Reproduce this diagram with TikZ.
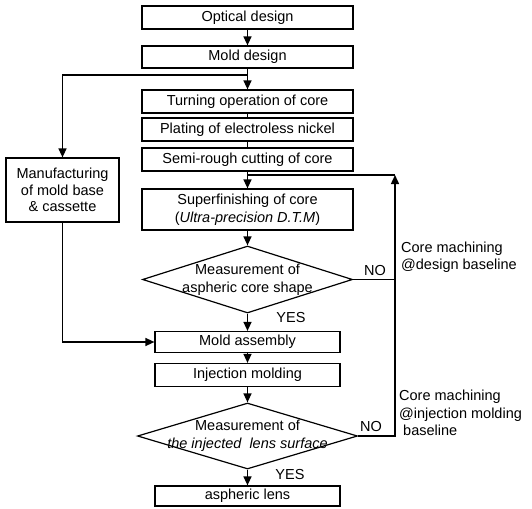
\documentclass[tikz,border=0pt]{standalone}
\usepackage{fontspec}
\setmainfont{Liberation Sans}
\usetikzlibrary{shapes.geometric,arrows.meta}
\begin{document}
\begin{tikzpicture}[x=1pt,y=-1pt,
  every node/.style={font=\fontsize{14.5}{17.5}\selectfont, inner sep=0pt},
  box/.style={draw, line width=1.2pt, rectangle, minimum width=211pt},
  sbox/.style={draw, line width=1.2pt, rectangle, minimum width=185pt, minimum height=21pt},
  dia/.style={draw, line width=1.2pt, diamond},
  ln/.style={line width=1.4pt},
  arr/.style={line width=1.4pt, -{Triangle[length=9pt,width=8pt]}},
  lbl/.style={anchor=center}
]
\useasboundingbox (0,0) rectangle (532,508);

\node[box, minimum height=23pt] (opt) at (247.5,17.5) {Optical design};
\node[box, minimum height=22pt] (mold) at (247.5,57) {Mold design};
\node[box, minimum height=23pt] (turn) at (247.5,101.5) {Turning operation of core};
\node[box, minimum height=23pt] (plat) at (247.5,129.5) {Plating of electroless nickel};
\node[box, minimum height=23pt] (semi) at (247.5,159.5) {Semi-rough cutting of core};
\node[box, minimum height=41pt, align=center] (sup) at (247.5,209.5) {Superfinishing of core\\(\textit{Ultra-precision D.T.M})};
\node[draw, line width=1.2pt, minimum width=113pt, minimum height=64pt, align=center,
  font=\fontsize{14.5}{16.5}\selectfont] (mfg) at (62.5,190) {Manufacturing\\of mold base\\\& cassette};

\node[dia, minimum width=210pt, minimum height=67pt] (d1) at (247.5,279.5) {};
\node[align=center] (d1t) at (247.5,280) {Measurement of\\aspheric core shape};
\node[sbox] (asm) at (247.5,342) {Mold assembly};
\node[sbox, minimum height=23pt] (inj) at (247.5,375) {Injection molding};
\node[dia, minimum width=220pt, minimum height=66pt] (d2) at (247.5,436) {};
\node[align=center] (d2t) at (247.5,436) {Measurement of\\\textit{the injected\ \ lens surface}};
\node[sbox, minimum height=20pt] (lens) at (247.5,496) {aspheric lens};

\node[lbl] (no1) at (375,271) {NO};
\node[lbl] (yes1) at (291,318) {YES};
\node[lbl] (no2) at (371,427) {NO};
\node[lbl] (yes2) at (290,475) {YES};
\node[anchor=west, align=left] (c1) at (401,257) {Core machining\\@design baseline};
\node[anchor=west, align=left] (c2) at (399,413) {Core machining\\@injection molding\\\ baseline};

\coordinate (rx) at (395,0);
\coordinate (j0) at (247.5,75);
\coordinate (j1) at (247.5,175);

\draw[arr] (opt) -- (mold);
\draw[arr] (mold) -- (turn);
\draw[arr] (j0) -| (mfg);
\draw[ln] (turn) -- (plat);
\draw[ln] (plat) -- (semi);
\draw[arr] (semi) -- (sup);
\draw[arr] (sup) -- (d1);
\draw[ln] (d1.east) -- (d1.east -| rx);
\draw[arr] (d2.east) -- (d2.east -| rx) -- (rx |- j1);
\draw[ln] (rx |- j1) -- (j1);
\draw[arr] (d1) -- (asm);
\draw[arr] (mfg) |- (asm);
\draw[arr] (asm) -- (inj);
\draw[arr] (inj) -- (d2);
\draw[arr] (d2) -- (lens);
\end{tikzpicture}
\end{document}
